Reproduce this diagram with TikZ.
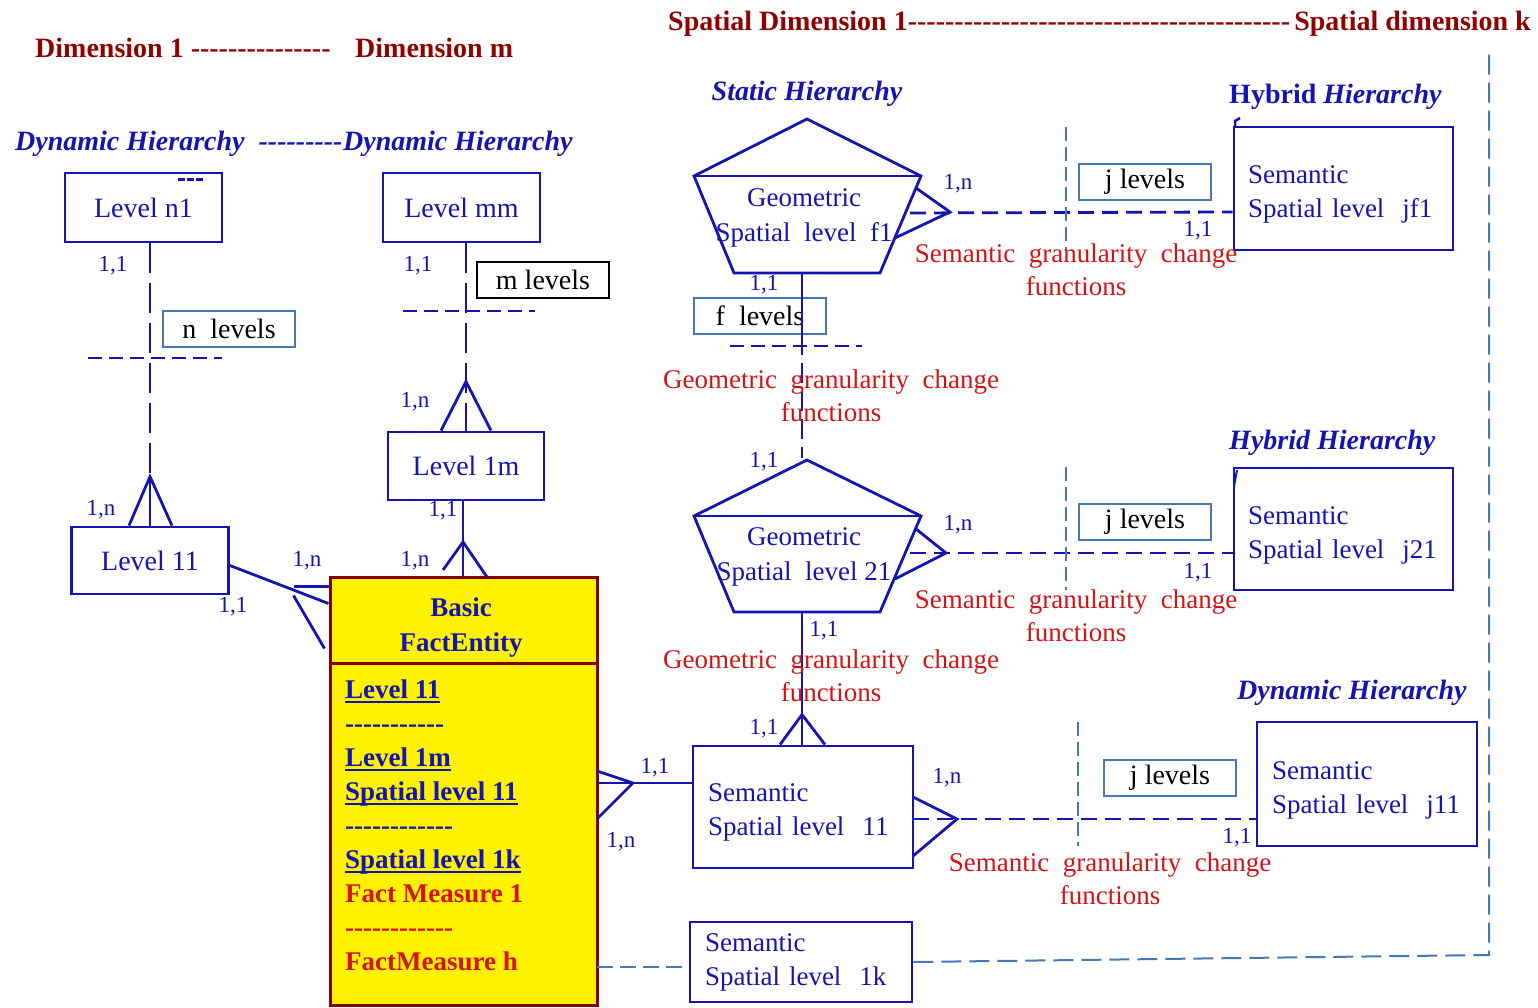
\documentclass[tikz,border=0pt]{standalone}
\usepackage{fontspec}
\setmainfont{Liberation Serif}[Ligatures=TeXOff]
\usetikzlibrary{calc}

\definecolor{eblue}{RGB}{20,20,175}
\definecolor{dred}{RGB}{145,0,0}
\definecolor{fred}{RGB}{210,20,20}
\definecolor{steel}{RGB}{70,120,180}
\definecolor{fbord}{RGB}{135,0,0}

\newcommand\fsz[2]{\fontsize{#1}{#2}\selectfont}
% underline at a fixed depth below the baseline
\newcommand\uln[1]{\setbox0\hbox{#1}\rlap{\rule[-4pt]{\wd0}{2pt}}\box0}

\tikzset{
  ent/.style={draw=eblue, line width=2.8pt, inner sep=0pt, text=eblue, font=\fsz{28}{34}},
  semb/.style={ent, font=\fsz{27}{34}, align=left, inner xsep=14pt},
  lvlbox/.style={draw=steel, line width=1.5pt, inner sep=0pt, font=\fsz{28}{32}, text=black,
                 minimum width=132pt, minimum height=36pt},
  card/.style={text=eblue, font=\fsz{23}{26}, inner sep=0pt},
  ttl/.style={text=dred, font=\bfseries\fsz{28}{32}, inner sep=0pt},
  hier/.style={text=eblue, font=\bfseries\itshape\fsz{28}{32}, inner sep=0pt},
  redtxt/.style={text=fred, font=\fsz{27}{33}, align=center, inner sep=0pt},
  conn/.style={draw=eblue, line width=2.8pt},
  dconn/.style={conn, dash pattern=on 16pt off 8pt},
  longdash/.style={conn, dash pattern=on 30pt off 10pt},
  sepline/.style={draw=eblue, line width=2.5pt, dash pattern=on 14pt off 7pt},
  thinline/.style={draw=steel, line width=1.6pt, dash pattern=on 14pt off 6pt},
  pent/.style={draw=eblue, line width=2.8pt, line join=miter},
}

\begin{document}
\begin{tikzpicture}[x=1pt,y=-1pt]
\useasboundingbox (0,0) rectangle (1538,1008);

% ---------- headings ----------
\node[ttl, anchor=west] (d1) at (35,48) {Dimension 1 ---------------};
\node[ttl, anchor=west] (dm) at (355,48) {Dimension m};
\node[ttl, anchor=west] (sd1) at (668,24) {Spatial Dimension 1-----------------------------------------};
\node[ttl, anchor=east] (sdk) at (1531,24) {Spatial dimension k};

\node[hier, anchor=west] (dh1) at (15,144) {Dynamic Hierarchy\hspace{14pt}---------};
\node[hier, anchor=west] (dh2) at (343,144) {Dynamic Hierarchy};
\node[hier] (sh) at (807,94) {Static Hierarchy};
\node[hier, anchor=west, font=\bfseries\fsz{28}{32}] (hh1) at (1229,97) {Hybrid \textit{Hierarchy}};
\node[hier, anchor=west] (hh2) at (1229,443) {Hybrid Hierarchy};
\node[hier, anchor=west] (dh3) at (1237,693) {Dynamic Hierarchy};

% ---------- classic dimension levels ----------
\node[ent, minimum width=157pt, minimum height=69pt] (n1) at (143.5,207.5) {Level n1};
\draw[eblue, line width=3pt, dash pattern=on 7pt off 2pt] (178,180) -- (205,180);
\node[ent, minimum width=157pt, minimum height=69pt] (mm) at (461.5,207.5) {Level mm};
\node[ent, minimum width=156pt, minimum height=68pt] (l1m) at (466,466) {Level 1m};
\node[ent, minimum width=157pt, minimum height=67pt] (l11) at (150,560.5) {Level 11};
\node[lvlbox, draw=black] (mlev) at (543,280) {m levels};
\node[lvlbox] (nlev) at (229,329) {n\ \ levels};

% ---------- fact entity ----------
\node[draw=fbord, fill=yellow, line width=3pt, minimum width=267pt, minimum height=428pt, inner sep=0pt]
  (fact) at (463.5,791) {};
\coordinate (dv) at (0,663);
\draw[fbord, line width=3pt] (fact.west |- dv) -- (fact.east |- dv);
\node[text=eblue, font=\bfseries\fsz{27}{35}, align=center, inner sep=0pt] (facthead) at (461,628)
  {Basic\\FactEntity};
\node[anchor=north west, inner sep=0pt, font=\bfseries\fsz{27}{34}, align=left, text=eblue] (factbody)
  at (345,680)
  {\uln{Level 11}\\-----------\\\uln{Level 1m}\\\uln{Spatial level 11}\\------------\\\uln{Spatial level 1k}\\
   \textcolor{fred}{Fact Measure 1}\\\textcolor{fred}{------------}\\\textcolor{fred}{FactMeasure h}};

% ---------- spatial levels ----------
\coordinate (A1) at (807,119); \coordinate (L1) at (694,176); \coordinate (R1) at (921,176);
\coordinate (BR1) at (880,273); \coordinate (BL1) at (734,273);
\draw[pent] (A1) -- (R1) -- (BR1) -- (BL1) -- (L1) -- cycle;
\draw[pent] (L1) -- (R1);
\node[text=eblue, font=\fsz{27}{35}, align=center, inner sep=0pt] (gf1) at (804,218)
  {Geometric\\Spatial\ \ level\ \ f1};

\coordinate (A2) at (807,460); \coordinate (L2) at (694,516); \coordinate (R2) at (921,516);
\coordinate (BR2) at (880,612); \coordinate (BL2) at (734,612);
\draw[pent] (A2) -- (R2) -- (BR2) -- (BL2) -- (L2) -- cycle;
\draw[pent] (L2) -- (R2);
\node[text=eblue, font=\fsz{27}{35}, align=center, inner sep=0pt] (g21) at (804,557)
  {Geometric\\Spatial\ \ level 21};

\node[lvlbox] (flev) at (760,316) {f\ \ levels};
\node[lvlbox] (jlev1) at (1145,182) {j levels};
\node[lvlbox] (jlev2) at (1145,522) {j levels};
\node[lvlbox] (jlev3) at (1170,778) {j levels};

\node[semb, minimum width=219pt, minimum height=123pt, text width=191pt] (jf1) at (1343.5,188.5)
  {\rule{0pt}{30pt}Semantic\\Spatial level\ \ jf1};
\node[semb, minimum width=219pt, minimum height=122pt, text width=191pt] (j21) at (1343.5,529)
  {\rule{0pt}{30pt}Semantic\\Spatial level\ \ j21};
\node[semb, minimum width=220pt, minimum height=124pt, text width=190pt, inner xsep=15pt] (j11) at (1367,784)
  {\rule{0pt}{30pt}Semantic\\Spatial level\ \ j11};
\node[semb, minimum width=220pt, minimum height=122pt, text width=190pt, inner xsep=15pt] (s11) at (803,807)
  {\rule{0pt}{28pt}Semantic\\Spatial level\ \ 11};
\node[semb, minimum width=222pt, minimum height=80pt, text width=192pt, inner xsep=15pt] (s1k) at (801,962)
  {Semantic\\Spatial level\ \ 1k};

% small strokes at the corners of two hybrid levels
\draw[eblue, line width=2.5pt] (1235,128) -- (1235,121) -- (1240,118);
\draw[eblue, line width=2pt] (1237,470) -- (1234,486);

% ---------- connectors: classic hierarchies ----------
\draw[longdash] (n1.south -| l11.north) -- (l11.north);
\draw[conn] (l11.north) -- ++(0,-49);
\draw[conn] ($(l11.north)+(-21,0)$) -- ($(l11.north)+(0,-49)$) -- ($(l11.north)+(22,0)$);
\draw[sepline] (88,358) -- (222,358);

\draw[longdash] (mm.south -| l1m.north) -- (l1m.north);
\draw[conn] ($(l1m.north)+(-25,0)$) -- ($(l1m.north)+(0,-49)$) -- ($(l1m.north)+(25,0)$);
\draw[sepline] (403,311) -- (535,311);

\coordinate (fa) at (463,577);
\draw[conn] (l1m.south -| fa) -- (fa);
\draw[conn] ($(fa)+(-20,-7)$) -- ($(fa)+(0,-35)$) -- ($(fa)+(24,0)$);

\draw[conn] ($(l11.east)+(0,5)$) -- ($(fact.north west)+(0,28)$);
\draw[conn] ($(fact.north west)+(-35,11)$) -- ($(fact.north west)+(0,11)$);
\draw[conn] ($(fact.north west)+(-35,20)$) -- ($(fact.north west)+(-4,73)$);

% ---------- connectors: spatial hierarchies ----------
\coordinate (y783) at (0,783);
\draw[conn] (fact.east |- y783) -- (s11.west |- y783);
\draw[conn] (597,771) -- (633,783) -- (597,819);

\coordinate (fb1) at (802,273);
\coordinate (ft2) at (802,458);
\draw[conn] (fb1) -- (fb1 |- flev.south);
\draw[conn, dash pattern=on 20pt off 8pt] (fb1 |- flev.south) -- (ft2);
\draw[sepline] (730,346) -- (862,346);

\coordinate (fb2) at (802,612);
\draw[conn] (fb2) -- (fb2 |- s11.north);
\draw[conn] ($(fb2 |- s11.north)+(-22,0)$) -- ($(fb2 |- s11.north)+(0,-30)$) -- ($(fb2 |- s11.north)+(23,0)$);

\coordinate (c1) at (950,212);
\draw[conn] (916,188) -- (c1) -- (895,238);
\draw[dconn] (910,213) -- (jf1.west |- c1);
\draw[thinline] (1066,127) -- (1066,250);

\coordinate (c2) at (946,553);
\draw[conn] (916,529) -- (c2) -- (895,579);
\draw[dconn] (910,553) -- (j21.west |- c2);
\draw[thinline] (1066,467) -- (1066,590);

\coordinate (c3) at (957,819);
\draw[conn] (913,797) -- (c3) -- (913,856);
\draw[dconn] (913,819) -- (j11.west |- c3);
\draw[thinline] (1078,722) -- (1078,846);

\coordinate (fk) at (597,967);
\draw[thinline, line width=2pt, dash pattern=on 16pt off 7pt] (fk) -- (s1k.west |- fk);
\coordinate (fr) at (1489,955);
\coordinate (ftop) at (1489,50);
\draw[thinline, line width=2pt, dash pattern=on 20pt off 8pt] (s1k.east) -- (fr) -- (ftop);

% ---------- granularity function labels ----------
\node[redtxt] (gg1) at (831,396) {Geometric\ \ granularity\ \ change\\functions};
\node[redtxt] (gg2) at (831,676) {Geometric\ \ granularity\ \ change\\functions};
\node[redtxt] (sg1) at (1076,270) {Semantic\ \ granularity\ \ change\\functions};
\node[redtxt] (sg2) at (1076,616) {Semantic\ \ granularity\ \ change\\functions};
\node[redtxt] (sg3) at (1110,879) {Semantic\ \ granularity\ \ change\\functions};

% ---------- cardinalities ----------
\node[card] (k1) at (113,266) {1,1};
\node[card] (k2) at (101,510) {1,n};
\node[card] (k3) at (418,266) {1,1};
\node[card] (k4) at (415,402) {1,n};
\node[card] (k5) at (443,511) {1,1};
\node[card] (k6) at (415,561) {1,n};
\node[card] (k7) at (307,561) {1,n};
\node[card] (k8) at (233,607) {1,1};
\node[card] (k9) at (764,285) {1,1};
\node[card] (k10) at (958,184) {1,n};
\node[card] (k11) at (1198,231) {1,1};
\node[card] (k12) at (764,462) {1,1};
\node[card] (k13) at (958,525) {1,n};
\node[card] (k14) at (1198,573) {1,1};
\node[card] (k15) at (824,631) {1,1};
\node[card] (k16) at (764,729) {1,1};
\node[card] (k17) at (655,768) {1,1};
\node[card] (k18) at (621,842) {1,n};
\node[card] (k19) at (947,778) {1,n};
\node[card] (k20) at (1237,838) {1,1};
\end{tikzpicture}
\end{document}
